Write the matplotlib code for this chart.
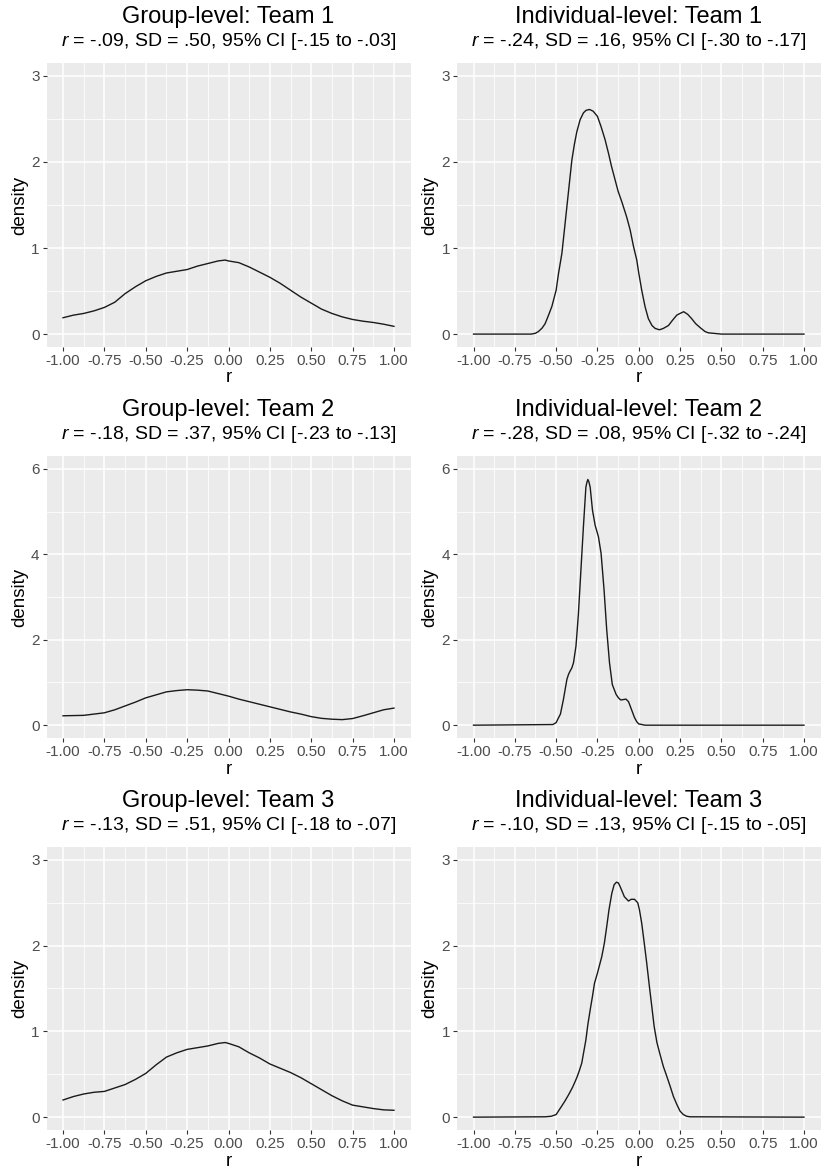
import matplotlib
matplotlib.use("Agg")
import matplotlib.pyplot as plt
from matplotlib.ticker import FixedLocator, FormatStrFormatter

plt.rcParams['font.family'] = ['Liberation Sans', 'DejaVu Sans']
plt.rcParams['mathtext.fontset'] = 'custom'
plt.rcParams['mathtext.rm'] = 'Liberation Sans'
plt.rcParams['mathtext.it'] = 'Liberation Sans:italic'
plt.rcParams['axes.unicode_minus'] = False

# density curves
g1_x = [-1, -0.9375, -0.875, -0.8125, -0.75, -0.6875, -0.625, -0.5625, -0.5, -0.4375, -0.375, -0.3125, -0.25,
        -0.1875, -0.125, -0.0625, -0.02, 0, 0.0625, 0.125, 0.1875, 0.25, 0.3125, 0.375, 0.4375, 0.5, 0.5625,
        0.625, 0.6875, 0.75, 0.8125, 0.875, 0.9375, 1]
g1_d = [0.19, 0.22, 0.24, 0.27, 0.31, 0.37, 0.47, 0.55, 0.62, 0.67, 0.71, 0.73, 0.75,
        0.79, 0.82, 0.85, 0.86, 0.85, 0.83, 0.78, 0.72, 0.66, 0.59, 0.51, 0.43, 0.36, 0.29,
        0.24, 0.20, 0.17, 0.15, 0.135, 0.115, 0.09]

i1_x = [-1, -0.75, -0.65, -0.625, -0.607, -0.585, -0.567, -0.55, -0.526, -0.5, -0.486, -0.465, -0.45, -0.435,
        -0.42, -0.405, -0.39, -0.375, -0.355, -0.335, -0.319, -0.298, -0.276, -0.25, -0.228, -0.204, -0.183,
        -0.165, -0.143, -0.125, -0.103, -0.073, -0.052, -0.032, -0.012, 0, 0.018, 0.038, 0.058, 0.08, 0.099,
        0.125, 0.149, 0.18, 0.204, 0.23, 0.25, 0.272, 0.296, 0.32, 0.345, 0.375, 0.401, 0.42, 0.5, 1]
i1_d = [0, 0, 0, 0.01, 0.03, 0.07, 0.12, 0.2, 0.32, 0.51, 0.70, 0.94, 1.21, 1.48,
        1.75, 2.02, 2.2, 2.35, 2.49, 2.57, 2.60, 2.61, 2.59, 2.53, 2.41, 2.26, 2.10,
        1.95, 1.79, 1.66, 1.54, 1.36, 1.21, 1.02, 0.86, 0.71, 0.51, 0.32, 0.18, 0.10, 0.066,
        0.05, 0.066, 0.10, 0.16, 0.22, 0.24, 0.26, 0.23, 0.18, 0.12, 0.07, 0.03, 0.015, 0, 0]

g2_x = [-1, -0.9375, -0.875, -0.8125, -0.75, -0.6875, -0.625, -0.5625, -0.5, -0.4375, -0.375, -0.3125, -0.25,
        -0.1875, -0.125, -0.0625, 0, 0.0625, 0.125, 0.1875, 0.25, 0.3125, 0.375, 0.4375, 0.5, 0.5625,
        0.625, 0.6875, 0.75, 0.8125, 0.875, 0.9375, 1]
g2_d = [0.22, 0.225, 0.23, 0.26, 0.29, 0.36, 0.45, 0.54, 0.64, 0.71, 0.78, 0.81, 0.83,
        0.82, 0.80, 0.74, 0.68, 0.61, 0.55, 0.49, 0.43, 0.37, 0.31, 0.26, 0.20, 0.16,
        0.14, 0.13, 0.155, 0.22, 0.29, 0.36, 0.40]

i2_x = [-1, -0.52, -0.5, -0.49, -0.474, -0.456, -0.435, -0.425, -0.415, -0.405, -0.395, -0.38, -0.373, -0.365,
        -0.35, -0.335, -0.32, -0.314, -0.308, -0.302, -0.294, -0.28, -0.264, -0.244, -0.228, -0.21, -0.194,
        -0.177, -0.16, -0.137, -0.123, -0.109, -0.093, -0.077, -0.062, -0.052, -0.026, -0.012, 0, 0.038, 1]
i2_d = [0, 0.015, 0.06, 0.14, 0.26, 0.6, 1.07, 1.19, 1.27, 1.34, 1.46, 1.85, 2.2, 2.62,
        3.63, 4.64, 5.57, 5.68, 5.75, 5.70, 5.57, 5.03, 4.68, 4.41, 4.02, 3.17, 2.24,
        1.46, 0.95, 0.72, 0.64, 0.59, 0.60, 0.61, 0.55, 0.45, 0.18, 0.08, 0.03, 0, 0]

g3_x = [-1, -0.9375, -0.875, -0.8125, -0.75, -0.6875, -0.625, -0.5625, -0.5, -0.4375, -0.375, -0.3125, -0.25,
        -0.1875, -0.125, -0.0625, -0.02, 0, 0.0625, 0.125, 0.1875, 0.25, 0.3125, 0.375, 0.4375, 0.5, 0.5625,
        0.625, 0.6875, 0.75, 0.8125, 0.875, 0.9375, 1]
g3_d = [0.20, 0.24, 0.27, 0.29, 0.30, 0.34, 0.38, 0.44, 0.51, 0.61, 0.70, 0.75, 0.79,
        0.81, 0.83, 0.86, 0.87, 0.86, 0.82, 0.75, 0.69, 0.62, 0.57, 0.52, 0.46, 0.39, 0.32,
        0.25, 0.19, 0.14, 0.12, 0.10, 0.085, 0.08]

i3_x = [-1, -0.566, -0.53, -0.5, -0.466, -0.446, -0.425, -0.4, -0.375, -0.36, -0.345, -0.32, -0.308, -0.294,
        -0.28, -0.268, -0.25, -0.224, -0.208, -0.194, -0.18, -0.163, -0.149, -0.135, -0.123, -0.113, -0.087,
        -0.062, -0.046, -0.026, -0.006, 0.004, 0.018, 0.032, 0.048, 0.064, 0.079, 0.093, 0.11, 0.129, 0.149,
        0.169, 0.19, 0.21, 0.23, 0.25, 0.27, 0.29, 0.31, 1]
i3_d = [0, 0.004, 0.01, 0.03, 0.13, 0.19, 0.26, 0.35, 0.46, 0.54, 0.63, 0.90, 1.08, 1.25,
        1.41, 1.56, 1.68, 1.87, 2.03, 2.22, 2.42, 2.61, 2.71, 2.74, 2.73, 2.69, 2.57,
        2.52, 2.54, 2.54, 2.50, 2.42, 2.26, 2.05, 1.80, 1.53, 1.29, 1.06, 0.87, 0.73, 0.59,
        0.48, 0.36, 0.24, 0.15, 0.07, 0.03, 0.01, 0.004, 0]

titles = ["Group-level: Team 1", "Individual-level: Team 1",
          "Group-level: Team 2", "Individual-level: Team 2",
          "Group-level: Team 3", "Individual-level: Team 3"]
subtitles = ["$r$ = -.09, SD = .50, 95% CI [-.15 to -.03]",
             "$r$ = -.24, SD = .16, 95% CI [-.30 to -.17]",
             "$r$ = -.18, SD = .37, 95% CI [-.23 to -.13]",
             "$r$ = -.28, SD = .08, 95% CI [-.32 to -.24]",
             "$r$ = -.13, SD = .51, 95% CI [-.18 to -.07]",
             "$r$ = -.10, SD = .13, 95% CI [-.15 to -.05]"]
curves = [(g1_x, g1_d), (i1_x, i1_d), (g2_x, g2_d), (i2_x, i2_d), (g3_x, g3_d), (i3_x, i3_d)]
y_max = [3, 3, 6, 6, 3, 3]

x_major = [-1, -0.75, -0.5, -0.25, 0, 0.25, 0.5, 0.75, 1]
x_minor = [-0.875, -0.625, -0.375, -0.125, 0.125, 0.375, 0.625, 0.875]

W, H = 821, 1169
fig = plt.figure(figsize=(W / 100, H / 100), dpi=100)

col_px = [(46.5, 364), (457, 363.5)]
row_px = [(63, 347), (456, 738), (847, 1130)]

for k in range(6):
    r, c = divmod(k, 2)
    left, width = col_px[c]
    top, bottom = row_px[r]
    ax = fig.add_axes([left / W, 1 - bottom / H, width / W, (bottom - top) / H])
    ax.set_facecolor('#EBEBEB')
    for s in ax.spines.values():
        s.set_visible(False)

    xs, ds = curves[k]
    ax.plot(xs, ds, color='#1a1a1a', lw=1.0, solid_joinstyle='round')

    ym = y_max[k]
    step = 1 if ym == 3 else 2
    ax.set_xlim(-1.1, 1.1)
    ax.set_ylim(-0.05 * ym, 1.05 * ym)
    ax.xaxis.set_major_locator(FixedLocator(x_major))
    ax.xaxis.set_minor_locator(FixedLocator(x_minor))
    ax.yaxis.set_major_locator(FixedLocator(list(range(0, ym + 1, step))))
    ax.yaxis.set_minor_locator(FixedLocator([v + step / 2 for v in range(0, ym, step)]))
    ax.xaxis.set_major_formatter(FormatStrFormatter('%.2f'))
    ax.grid(which='major', color='white', lw=1.1)
    ax.grid(which='minor', color='white', lw=0.55)
    ax.set_axisbelow(True)
    ax.tick_params(which='major', length=3, width=0.8, color='#333333',
                   labelsize=11, labelcolor='#4D4D4D', pad=2)
    ax.tick_params(which='minor', length=0)

    ax.set_xlabel('r', fontsize=13.5)
    ax.set_ylabel('density', fontsize=13.5)
    ax.xaxis.label.set_va('center')
    ax.yaxis.label.set_va('center')
    h = bottom - top
    ax.xaxis.set_label_coords(0.5, -31 / h)
    ax.yaxis.set_label_coords(-27 / width, 0.5)

    ax.text(0.5, 1 + 46 / h, titles[k], transform=ax.transAxes, ha='center', va='center', fontsize=17)
    ax.text(0.5, 1 + 21 / h, subtitles[k], transform=ax.transAxes, ha='center', va='center', fontsize=14)

fig.savefig('out.png', dpi=100)
